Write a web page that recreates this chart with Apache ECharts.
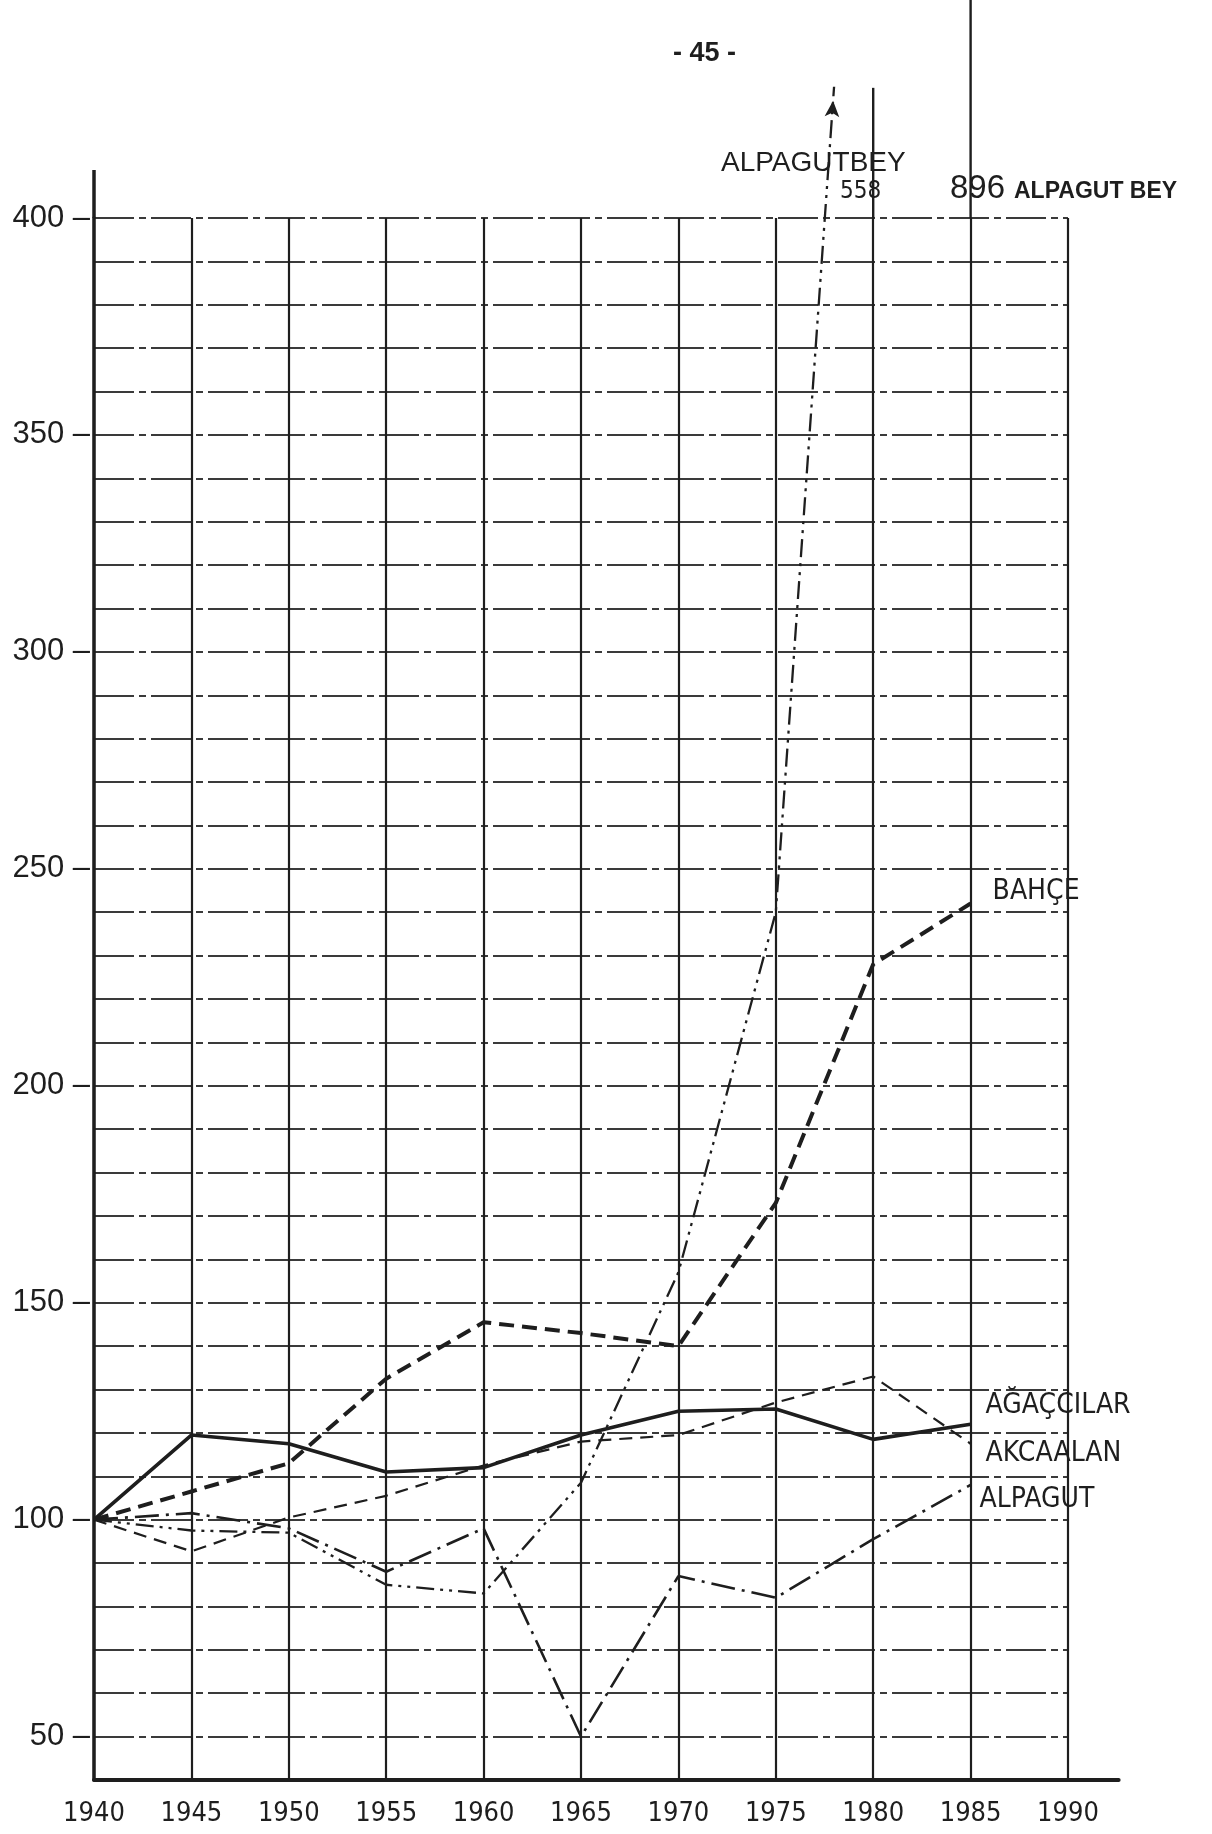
<!DOCTYPE html>
<html>
<head>
<meta charset="utf-8">
<title>-45-</title>
<script src="https://cdn.jsdelivr.net/npm/echarts/dist/echarts.min.js"></script>
<style>
html, body { margin: 0; padding: 0; background: #ffffff; }
#chart { width: 1212px; height: 1834px; }
</style>
</head>
<body>
<div id="chart"></div>
<script>
// index values, 1940 = 100
var years      = [1940, 1945, 1950, 1955, 1960, 1965, 1970, 1975, 1980, 1985];
var agaccilar  = [100, 119.5, 117.5, 111, 112, 119.5, 125, 125.5, 118.5, 122];
var bahce      = [100, 106.5, 113, 132.5, 145.5, 143, 140, 173, 228, 242];
var akcaalan   = [100, 92.7, 100.5, 105.5, 112.5, 118, 119.5, 127, 133, 117.5];
var alpagut    = [100, 101.5, 98, 88, 98, 50, 87, 82, 95.5, 108];
var alpagutbey = [100, 97.5, 97, 85, 83, 108.5, 157, 240, 558, 896];

var yLabels = [50, 100, 150, 200, 250, 300, 350, 400];

var ink = '#1e1e1e';
var sans = '"Liberation Sans", Arial, sans-serif';
var narrow = '"Liberation Sans Narrow", "DejaVu Sans Condensed", "Liberation Sans", sans-serif';

// layout of the drawing
var left = 94, bottom = 54, top400 = 218;
var pxPerYear = 19.48;
var xEnd = 1992.6;        // axis line runs a little past 1990
var yTopExt = 430;        // room above 400 for the ALPAGUTBEY arrow
var pxPerUnit = (1834 - bottom - top400) / 360;

function pairs(vals) {
  return years.map(function (y, i) { return [y, vals[i]]; });
}

// where the 1975-1980 ALPAGUTBEY segment leaves the drawing
var arrowVal = 427;
var arrowYear = years[7] + (years[8] - years[7]) * (arrowVal - alpagutbey[7]) / (alpagutbey[8] - alpagutbey[7]);

function endLbl(text, dx, dy) {
  return {
    show: true, formatter: text, offset: [dx, dy], distance: 0,
    align: 'left', verticalAlign: 'middle',
    fontFamily: narrow, fontSize: 28, color: ink
  };
}

var chart = echarts.init(document.getElementById('chart'), null, { renderer: 'canvas' });

var option = {
  backgroundColor: '#ffffff',
  animation: false,
  grid: [
    { left: left, right: 1212 - (left + 50 * pxPerYear), top: top400, bottom: bottom, outerBoundsMode: 'none' },
    { left: left, right: 1212 - (left + (xEnd - 1940) * pxPerYear), top: top400 - 30 * pxPerUnit, bottom: bottom, outerBoundsMode: 'none' }
  ],
  xAxis: [
    {
      gridIndex: 0, type: 'value', min: 1940, max: 1990, interval: 5,
      axisLine: { show: false }, axisTick: { show: false },
      axisLabel: {
        margin: 20, fontFamily: narrow, fontSize: 27, color: ink,
        formatter: function (v) { return String(v); }
      },
      splitLine: { show: true, lineStyle: { color: ink, width: 2.2, type: 'solid' } }
    },
    {
      gridIndex: 1, type: 'value', min: 1940, max: xEnd,
      axisLine: { show: true, lineStyle: { color: ink, width: 4 } },
      axisTick: { show: false }, axisLabel: { show: false }, splitLine: { show: false }
    }
  ],
  yAxis: [
    {
      gridIndex: 0, type: 'value', min: 40, max: 400, interval: 10,
      axisLine: { show: true, lineStyle: { color: ink, width: 3.5 } },
      axisTick: { show: false },
      axisLabel: {
        margin: 4, fontFamily: sans, fontSize: 31, color: ink,
        formatter: function (v) { return yLabels.indexOf(v) >= 0 ? v + ' \u2013' : ''; }
      },
      splitLine: { show: true, lineStyle: { color: '#3a3a3a', width: 1.9, type: [40, 5, 7, 5] } }
    },
    {
      gridIndex: 1, type: 'value', min: 40, max: yTopExt,
      axisLine: { show: false }, axisTick: { show: false },
      axisLabel: { show: false }, splitLine: { show: false }
    }
  ],
  series: [
    {
      name: 'AĞAÇCILAR', type: 'line', xAxisIndex: 1, yAxisIndex: 1,
      data: pairs(agaccilar), symbol: 'none',
      lineStyle: { color: ink, width: 3.6, type: 'solid' },
      endLabel: endLbl('AĞAÇCILAR', 15, -18)
    },
    {
      name: 'BAHÇE', type: 'line', xAxisIndex: 1, yAxisIndex: 1,
      data: pairs(bahce), symbol: 'none',
      lineStyle: { color: ink, width: 4, type: [15, 8] },
      endLabel: endLbl('BAHÇE', 22, -12)
    },
    {
      name: 'AKCAALAN', type: 'line', xAxisIndex: 1, yAxisIndex: 1,
      data: pairs(akcaalan), symbol: 'none',
      lineStyle: { color: ink, width: 2.2, type: [13, 8] },
      endLabel: endLbl('AKCAALAN', 15, 10)
    },
    {
      name: 'ALPAGUT', type: 'line', xAxisIndex: 1, yAxisIndex: 1,
      data: pairs(alpagut), symbol: 'none',
      lineStyle: { color: ink, width: 2.6, type: [24, 7, 3, 7] },
      endLabel: endLbl('ALPAGUT', 9, 15)
    },
    {
      name: 'ALPAGUTBEY', type: 'line', xAxisIndex: 1, yAxisIndex: 1,
      data: pairs(alpagutbey), symbol: 'none', clip: true,
      lineStyle: { color: ink, width: 2.3, type: [18, 6, 3, 6, 3, 6] },
      markPoint: {
        symbol: 'arrow', symbolSize: [11, 16], symbolRotate: -4,
        itemStyle: { color: ink }, label: { show: false },
        data: [{ coord: [arrowYear, arrowVal] }]
      }
    }
  ]
};

chart.setOption(option);

// break marks above the 400 line and the annotations around them
var p400 = chart.convertToPixel({ xAxisIndex: 0, yAxisIndex: 0 }, [1940, 400]);
var p80 = chart.convertToPixel({ xAxisIndex: 0, yAxisIndex: 0 }, [1980, 400]);
var p85 = chart.convertToPixel({ xAxisIndex: 0, yAxisIndex: 0 }, [1985, 400]);
var pTop = chart.convertToPixel({ xAxisIndex: 1, yAxisIndex: 1 }, [1980, yTopExt]);

chart.setOption({
  graphic: [
    { type: 'line', shape: { x1: p400[0], y1: p400[1], x2: p400[0], y2: 170 }, style: { stroke: ink, lineWidth: 3.5 } },
    { type: 'line', shape: { x1: p80[0], y1: p80[1], x2: p80[0], y2: pTop[1] }, style: { stroke: ink, lineWidth: 2.4 } },
    { type: 'line', shape: { x1: p85[0], y1: p85[1], x2: p85[0], y2: 0 }, style: { stroke: ink, lineWidth: 2.4 } },
    { type: 'text', left: 673, top: 40, style: { text: '- 45 -', font: 'bold 27px ' + sans, fill: ink } },
    { type: 'text', left: 721, top: 149, style: { text: 'ALPAGUTBEY', font: '28px ' + sans, fill: ink } },
    { type: 'text', left: 840, top: 180, style: { text: '558', font: '24px ' + narrow, fill: ink } },
    { type: 'text', left: 950, top: 172, style: { text: '896', font: '33px ' + sans, fill: ink } },
    { type: 'text', left: 1014, top: 180, style: { text: 'ALPAGUT BEY', font: 'bold 23px ' + sans, fill: ink } }
  ]
});
</script>
</body>
</html>
